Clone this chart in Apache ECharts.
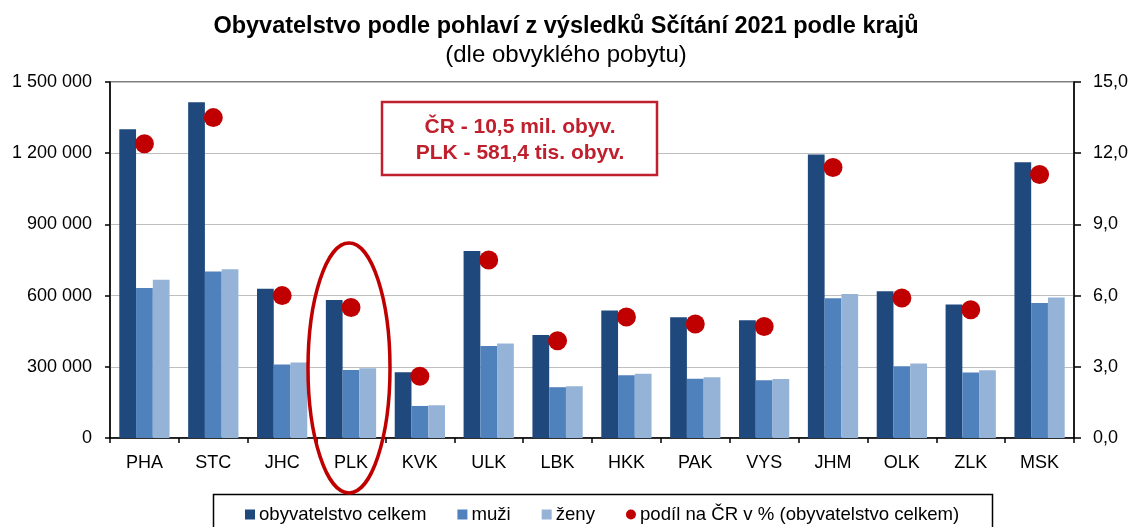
<!DOCTYPE html>
<html>
<head>
<meta charset="utf-8">
<script src="https://cdn.jsdelivr.net/npm/echarts@6/dist/echarts.min.js"></script>
<style>
  html, body { margin: 0; padding: 0; background: #fff; }
  #chart { width: 1132px; height: 527px; }
</style>
</head>
<body>
<div id="chart"></div>
<script>
// kraje
const categories = ['PHA', 'STC', 'JHC', 'PLK', 'KVK', 'ULK', 'LBK', 'HKK', 'PAK', 'VYS', 'JHM', 'OLK', 'ZLK', 'MSK']
// obyvatelstvo celkem
const celkem = [1301000, 1415000, 629000, 581400, 277000, 788000, 434000, 537000, 509000, 496000, 1195000, 618000, 563000, 1162000]
// muži / ženy
const muzi = [632000, 702000, 310000, 287000, 135000, 388000, 214000, 264000, 250000, 243000, 589000, 302000, 276000, 569000]
const zeny = [667000, 711000, 318000, 294000, 138000, 398000, 218000, 271000, 256000, 249000, 607000, 314000, 285000, 592000]
// podíl na ČR v %
const podil = [12.4, 13.5, 6.0, 5.5, 2.6, 7.5, 4.1, 5.1, 4.8, 4.7, 11.4, 5.9, 5.4, 11.1]

const leftTicks = { min: 0, max: 1500000, interval: 300000 }
const rightTicks = { min: 0, max: 15, interval: 3 }

const FONT = 'Liberation Sans, Arial, sans-serif'
const names = ['obyvatelstvo celkem', 'muži', 'ženy', 'podíl na ČR v % (obyvatelstvo celkem)']
const colors = ['#1F497D', '#4F81BD', '#95B3D7', '#C00000']

// mezery jako oddělovač tisíců
const fmtThousands = (v) => String(v).replace(/\B(?=(\d{3})+(?!\d))/g, ' ')

const chart = echarts.init(document.getElementById('chart'))

const barSeries = (name, data, color) => ({
  name,
  type: 'bar',
  data,
  yAxisIndex: 0,
  barGap: '0%',
  barCategoryGap: '27%',
  itemStyle: { color },
  z: 2
})

const option = {
  animation: false,
  backgroundColor: '#fff',
  textStyle: { fontFamily: FONT },
  title: {
    text: 'Obyvatelstvo podle pohlaví z výsledků Sčítání 2021 podle krajů',
    subtext: '(dle obvyklého pobytu)',
    left: 'center',
    top: 10,
    itemGap: 4,
    textStyle: { fontFamily: FONT, fontSize: 23.5, lineHeight: 24, fontWeight: 'bold', color: '#000' },
    subtextStyle: { fontFamily: FONT, fontSize: 24, lineHeight: 24, color: '#000' }
  },
  grid: {
    left: 110,
    right: 58,
    top: 82,
    bottom: 89,
    show: true,
    borderColor: '#000',
    borderWidth: 1,
    backgroundColor: 'transparent'
  },
  legend: {
    left: 245,
    top: 505,
    itemWidth: 10,
    itemHeight: 10,
    itemGap: 31,
    padding: 0,
    textStyle: { fontFamily: FONT, fontSize: 18.6, color: '#000', padding: [0, 0, 0, -1] },
    data: [
      { name: names[0], icon: 'rect' },
      { name: names[1], icon: 'rect' },
      { name: names[2], icon: 'rect' },
      { name: names[3], icon: 'circle' }
    ]
  },
  xAxis: {
    type: 'category',
    data: categories,
    axisLine: { lineStyle: { color: '#000', width: 1.5 } },
    axisTick: { show: true, length: 5, lineStyle: { color: '#000', width: 1.5 } },
    axisLabel: { color: '#000', fontSize: 18, fontFamily: FONT, margin: 16 }
  },
  yAxis: [
    {
      type: 'value',
      ...leftTicks,
      axisLine: { show: true, lineStyle: { color: '#000', width: 1.5 } },
      axisTick: { show: true, length: 5, lineStyle: { color: '#000', width: 1.5 } },
      axisLabel: { color: '#000', fontSize: 18, fontFamily: FONT, margin: 18, formatter: fmtThousands },
      splitLine: { show: true, lineStyle: { color: '#BFBFBF', width: 1 } }
    },
    {
      type: 'value',
      ...rightTicks,
      position: 'right',
      axisLine: { show: true, lineStyle: { color: '#000', width: 1.5 } },
      axisTick: { show: true, length: 7, lineStyle: { color: '#000', width: 1.5 } },
      axisLabel: { color: '#000', fontSize: 18, fontFamily: FONT, margin: 19, formatter: (v) => v.toFixed(1).replace('.', ',') },
      splitLine: { show: false }
    }
  ],
  series: [
    barSeries(names[0], celkem, colors[0]),
    barSeries(names[1], muzi, colors[1]),
    barSeries(names[2], zeny, colors[2]),
    {
      name: names[3],
      type: 'scatter',
      data: podil,
      yAxisIndex: 1,
      symbol: 'circle',
      symbolSize: 19,
      itemStyle: { color: colors[3], opacity: 1 },
      z: 5
    }
  ]
}

chart.setOption(option)

// anotace: rámeček s textem a elipsa kolem PLK
const plkIdx = categories.indexOf('PLK')
const [cx, cy] = chart.convertToPixel({ xAxisIndex: 0, yAxisIndex: 0 }, [plkIdx, 295000])

chart.setOption({
  graphic: [
    // legenda – rámeček
    {
      type: 'rect',
      shape: { x: 213.5, y: 494.5, width: 779, height: 50 },
      style: { fill: 'none', stroke: '#000', lineWidth: 1.5 },
      z: 0
    },
    {
      type: 'rect',
      shape: { x: 382, y: 102, width: 275, height: 73 },
      style: { fill: '#fff', stroke: '#C0202E', lineWidth: 2.5 },
      z: 10
    },
    {
      type: 'text',
      x: 520,
      y: 140,
      style: {
        text: 'ČR - 10,5 mil. obyv.\nPLK - 581,4 tis. obyv.',
        fill: '#C0202E',
        font: 'bold 21px ' + FONT,
        lineHeight: 26,
        align: 'center',
        verticalAlign: 'middle'
      },
      z: 11
    },
    {
      type: 'ellipse',
      shape: { cx: cx - 2, cy, rx: 41, ry: 125 },
      style: { fill: 'none', stroke: '#C00000', lineWidth: 3.5 },
      z: 12
    }
  ]
})
</script>
</body>
</html>
